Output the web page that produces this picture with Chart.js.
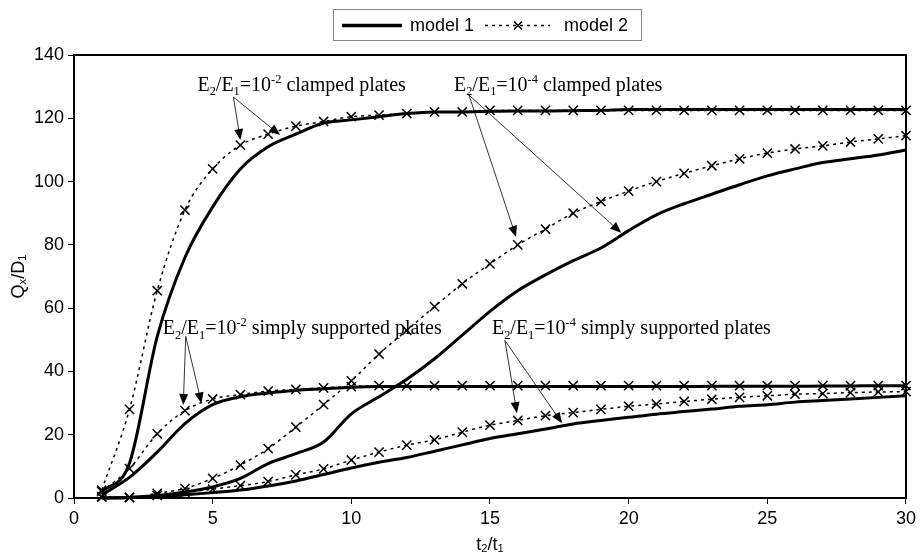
<!DOCTYPE html>
<html>
<head>
<meta charset="utf-8">
<script src="https://cdn.jsdelivr.net/npm/chart.js@4.4.0/dist/chart.umd.min.js"></script>
<style>
  body { margin: 0; background: #fff; }
  #wrap { width: 920px; height: 558px; }
</style>
</head>
<body>
<div id="wrap"><canvas id="qChart" width="920" height="558"></canvas></div>
<script>
// t2/t1 values where both models were evaluated
const tRatio = [1, 2, 3, 4, 5, 6, 7, 8, 9, 10, 11, 12, 13, 14, 15, 16, 17, 18, 19, 20, 21, 22, 23, 24, 25, 26, 27, 28, 29, 30];

// E2/E1 = 1e-2, clamped plates
const clamped2Model1 = [2, 11, 51, 76, 92, 104, 111, 115, 118.5, 119.5, 120.5, 121.5, 122, 122, 122.2, 122.3, 122.3, 122.4, 122.5, 122.8, 122.8, 122.8, 122.8, 122.8, 122.8, 122.8, 122.8, 122.8, 122.8, 122.8];
const clamped2Model2 = [2.5, 28, 65.5, 91, 104, 111.5, 115, 117.5, 119, 120.5, 121, 121.5, 122, 122, 122.5, 122.5, 122.5, 122.5, 122.5, 122.5, 122.5, 122.5, 122.5, 122.5, 122.5, 122.5, 122.5, 122.5, 122.5, 122.5];

// E2/E1 = 1e-4, clamped plates
const clamped4Model1 = [0, 0.2, 0.8, 1.9, 3.5, 6.2, 10.9, 14, 17.7, 26.6, 32, 37.5, 44, 51.5, 59, 65.5, 70.5, 75, 79, 84.5, 89.5, 93, 96, 99, 101.8, 104, 106, 107.2, 108.4, 110];
const clamped4Model2 = [0.4, 0.1, 1.5, 3, 6.2, 10.4, 15.6, 22.4, 29.5, 37, 45.5, 53, 60.5, 67.7, 74, 80, 85, 90, 93.7, 97, 100, 102.6, 105, 107.2, 109, 110.3, 111.3, 112.5, 113.5, 114.5];

// E2/E1 = 1e-2, simply supported plates
const ss2Model1 = [1, 6.5, 14.5, 23.5, 29.5, 32, 33.2, 34, 34.5, 35, 35.2, 35.2, 35.2, 35.2, 35.2, 35.2, 35.2, 35.2, 35.2, 35.2, 35.2, 35.2, 35.3, 35.3, 35.3, 35.3, 35.4, 35.4, 35.5, 35.5];
const ss2Model2 = [2, 9.3, 20.3, 27.6, 31.3, 32.7, 33.8, 34.3, 34.8, 35.2, 35.5, 35.5, 35.5, 35.5, 35.5, 35.5, 35.5, 35.5, 35.5, 35.5, 35.5, 35.5, 35.5, 35.5, 35.5, 35.5, 35.5, 35.5, 35.5, 35.5];

// E2/E1 = 1e-4, simply supported plates
const ss4Model1 = [0, 0.1, 0.4, 1, 1.7, 2.5, 3.8, 5.4, 7.4, 9.5, 11.3, 12.8, 14.8, 16.8, 18.8, 20.3, 21.8, 23.4, 24.5, 25.5, 26.5, 27.3, 28.1, 29, 29.5, 30.3, 30.8, 31.3, 31.8, 32.3];
const ss4Model2 = [0.3, 0.2, 0.8, 1.8, 2.8, 3.9, 5.2, 7.3, 9.2, 12, 14.5, 16.7, 18.4, 20.8, 23, 24.5, 26, 27, 28, 29, 29.7, 30.5, 31.2, 31.8, 32.3, 32.8, 33, 33.3, 33.5, 33.6];

const xTickStep = 5;
const yTickStep = 20;

const SANS = '"Liberation Sans", Arial, sans-serif';
const SERIF = '"Liberation Serif", "Times New Roman", serif';

function toPoints(ys) {
    return tRatio.map((t, i) => ({ x: t, y: ys[i] }));
}

function model1(ys) {
    return {
        data: toPoints(ys),
        borderColor: '#000',
        borderWidth: 3,
        pointRadius: 0,
        cubicInterpolationMode: 'monotone',
        clip: false
    };
}

function model2(ys) {
    return {
        data: toPoints(ys),
        borderColor: '#000',
        borderWidth: 1.5,
        borderDash: [3, 4],
        pointStyle: 'crossRot',
        pointRadius: 6.5,
        pointBorderWidth: 1.5,
        pointBorderColor: '#000',
        cubicInterpolationMode: 'monotone',
        clip: false
    };
}

// text with sub/superscripts: parts = [[text, '' | 'sub' | 'sup'], ...]
function richWidth(ctx, parts, size, family) {
    let w = 0;
    parts.forEach(([txt, mode]) => {
        ctx.font = (mode ? size * 0.62 : size) + 'px ' + family;
        w += ctx.measureText(txt).width;
    });
    return w;
}

function richText(ctx, x, y, parts, size, family) {
    let cx = x;
    parts.forEach(([txt, mode]) => {
        ctx.font = (mode ? size * 0.62 : size) + 'px ' + family;
        let dy = 0;
        if (mode === 'sub') dy = size * 0.22;
        if (mode === 'sup') dy = -size * 0.4;
        ctx.fillText(txt, cx, y + dy);
        cx += ctx.measureText(txt).width;
    });
}

function arrow(ctx, x1, y1, x2, y2) {
    const ang = Math.atan2(y2 - y1, x2 - x1);
    const len = 11, half = 4.5;
    ctx.beginPath();
    ctx.moveTo(x1, y1);
    ctx.lineTo(x2 - Math.cos(ang) * len * 0.8, y2 - Math.sin(ang) * len * 0.8);
    ctx.lineWidth = 0.8;
    ctx.stroke();
    ctx.beginPath();
    ctx.moveTo(x2, y2);
    ctx.lineTo(x2 - Math.cos(ang) * len - Math.sin(ang) * half, y2 - Math.sin(ang) * len + Math.cos(ang) * half);
    ctx.lineTo(x2 - Math.cos(ang) * len + Math.sin(ang) * half, y2 - Math.sin(ang) * len - Math.cos(ang) * half);
    ctx.closePath();
    ctx.fill();
}

// annotation labels: text anchor in data units, arrow origin offset in px, arrow tips in data units
const notes = [
    { at: [4.45, 128.6], from: [36, 6], tips: [[6.0, 113.1], [7.43, 114.7]],
      parts: [['E', ''], ['2', 'sub'], ['/E', ''], ['1', 'sub'], ['=10', ''], ['-2', 'sup'], [' clamped plates', '']] },
    { at: [13.7, 128.6], from: [15, 4], tips: [[15.94, 82.5], [19.73, 83.8]],
      parts: [['E', ''], ['2', 'sub'], ['/E', ''], ['1', 'sub'], ['=10', ''], ['-4', 'sup'], [' clamped plates', '']] },
    { at: [3.2, 51.7], from: [23, 2], tips: [[3.94, 29.4], [4.6, 29.9]],
      parts: [['E', ''], ['2', 'sub'], ['/E', ''], ['1', 'sub'], ['=10', ''], ['-2', 'sup'], [' simply supported plates', '']] },
    { at: [15.07, 51.7], from: [13, 6], tips: [[15.97, 26.8], [17.6, 23.6]],
      parts: [['E', ''], ['2', 'sub'], ['/E', ''], ['1', 'sub'], ['=10', ''], ['-4', 'sup'], [' simply supported plates', '']] }
];

const decor = {
    id: 'decor',
    beforeDraw(chart) {
        const ctx = chart.ctx;
        ctx.save();
        ctx.fillStyle = '#fff';
        ctx.fillRect(0, 0, chart.width, chart.height);
        ctx.restore();
    },
    afterDraw(chart) {
        const ctx = chart.ctx;
        const a = chart.chartArea;
        const xs = chart.scales.x, ys = chart.scales.y;
        ctx.save();

        // plot frame
        ctx.strokeStyle = '#000';
        ctx.lineWidth = 2;
        ctx.strokeRect(a.left, a.top, a.right - a.left, a.bottom - a.top);

        // annotations
        ctx.fillStyle = '#000';
        ctx.strokeStyle = '#000';
        ctx.textBaseline = 'alphabetic';
        ctx.textAlign = 'left';
        notes.forEach(n => {
            const px = xs.getPixelForValue(n.at[0]);
            const py = ys.getPixelForValue(n.at[1]);
            richText(ctx, px, py, n.parts, 20, SERIF);
            const ox = px + n.from[0], oy = py + n.from[1];
            n.tips.forEach(([t, v]) => arrow(ctx, ox, oy, xs.getPixelForValue(t), ys.getPixelForValue(v)));
        });

        // axis titles
        ctx.textBaseline = 'middle';
        const xt = [['t', ''], ['2', 'sub'], ['/t', ''], ['1', 'sub']];
        const xw = richWidth(ctx, xt, 18, SANS);
        richText(ctx, (a.left + a.right) / 2 - xw / 2, 545, xt, 18, SANS);

        const yt = [['Q', ''], ['x', 'sub'], ['/D', ''], ['1', 'sub']];
        const yw = richWidth(ctx, yt, 18, SANS);
        ctx.save();
        ctx.translate(19, (a.top + a.bottom) / 2);
        ctx.rotate(-Math.PI / 2);
        richText(ctx, -yw / 2, 0, yt, 18, SANS);
        ctx.restore();

        // legend
        ctx.strokeStyle = '#888';
        ctx.lineWidth = 1;
        ctx.strokeRect(333.5, 9.5, 308, 31);
        const ly = 25.5;
        ctx.strokeStyle = '#000';
        ctx.lineWidth = 3.5;
        ctx.beginPath();
        ctx.moveTo(342, ly); ctx.lineTo(402, ly);
        ctx.stroke();
        ctx.font = '18px ' + SANS;
        ctx.fillText('model 1', 410, ly + 1);
        ctx.lineWidth = 1.5;
        ctx.setLineDash([3, 4]);
        ctx.beginPath();
        ctx.moveTo(485, ly); ctx.lineTo(550, ly);
        ctx.stroke();
        ctx.setLineDash([]);
        ctx.beginPath();
        ctx.moveTo(514, ly - 4); ctx.lineTo(522, ly + 4);
        ctx.moveTo(514, ly + 4); ctx.lineTo(522, ly - 4);
        ctx.stroke();
        ctx.fillText('model 2', 564, ly + 1);

        ctx.restore();
    }
};

const ctx = document.getElementById('qChart').getContext('2d');

const qChart = new Chart(ctx, {
    type: 'line',
    data: {
        datasets: [
            model1(clamped2Model1), model2(clamped2Model2),
            model1(clamped4Model1), model2(clamped4Model2),
            model1(ss2Model1), model2(ss2Model2),
            model1(ss4Model1), model2(ss4Model2)
        ]
    },
    options: {
        responsive: false,
        animation: false,
        layout: { padding: { top: 55, right: 14, left: 0, bottom: 0 } },
        plugins: {
            legend: { display: false },
            tooltip: { enabled: false }
        },
        scales: {
            x: {
                type: 'linear',
                min: 0,
                max: 30,
                afterFit: (s) => { s.height = 60; },
                ticks: { stepSize: xTickStep, color: '#000', padding: 4, font: { family: SANS, size: 18 } },
                grid: { drawOnChartArea: false, drawTicks: true, tickLength: 6, color: '#000' },
                border: { color: '#000', width: 2 }
            },
            y: {
                min: 0,
                max: 140,
                afterFit: (s) => { s.width = 74; },
                ticks: { stepSize: yTickStep, color: '#000', padding: 4, font: { family: SANS, size: 18 } },
                grid: { drawOnChartArea: false, drawTicks: true, tickLength: 6, color: '#000' },
                border: { color: '#000', width: 2 }
            }
        }
    },
    plugins: [decor]
});
</script>
</body>
</html>
